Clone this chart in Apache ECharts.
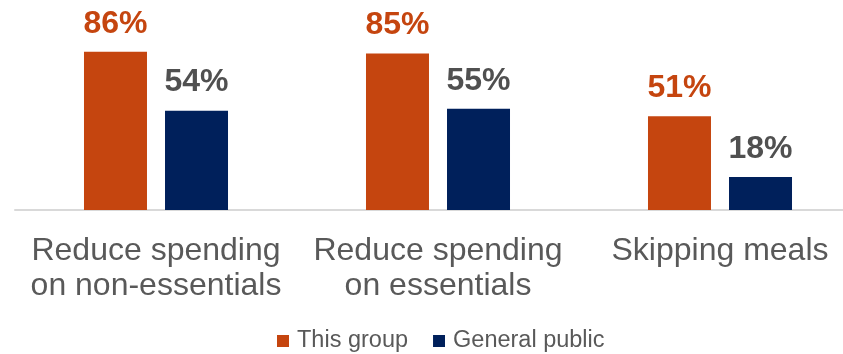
<!DOCTYPE html>
<html>
<head>
<meta charset="utf-8">
<script src="https://cdn.jsdelivr.net/npm/echarts@6/dist/echarts.min.js"></script>
<style>html,body{margin:0;padding:0;background:#fff}#c{width:843px;height:354px}</style>
</head>
<body>
<div id="c"></div>
<script>
var categories = ["Reduce spending\non non-essentials", "Reduce spending\non essentials", "Skipping meals"];
var seriesNames = ["This group", "General public"];
var thisGroup = [86, 85, 51];
var generalPublic = [54, 55, 18];

var chart = echarts.init(document.getElementById('c'), null, {renderer: 'canvas'});
var font = '"Liberation Sans", Arial, sans-serif';
chart.setOption({
  animation: false,
  backgroundColor: '#ffffff',
  grid: {left: 15, width: 846, top: 26, height: 184, containLabel: false, outerBoundsMode: 'none'},
  legend: {
    data: seriesNames,
    left: 277, top: 329, padding: 0,
    itemWidth: 12, itemHeight: 12, itemGap: 25,
    icon: 'rect',
    textStyle: {fontFamily: font, fontSize: 23.5, color: '#595959', padding: [0, 0, 0, 3]}
  },
  xAxis: {
    type: 'category',
    data: categories,
    axisLine: {show: true, lineStyle: {color: '#d9d9d9', width: 2}},
    axisTick: {show: false},
    axisLabel: {interval: 0, margin: 24, fontFamily: font, fontSize: 32, lineHeight: 35, color: '#595959'}
  },
  yAxis: {type: 'value', min: 0, max: 100, show: false, splitLine: {show: false}},
  series: [
    {
      name: seriesNames[0], type: 'bar', data: thisGroup,
      barWidth: 63, barGap: '28.6%',
      itemStyle: {color: '#C5450F'},
      label: {show: true, position: 'top', distance: 12, formatter: '{c}%', fontFamily: font, fontSize: 32, fontWeight: 'bold', color: '#C5450F'}
    },
    {
      name: seriesNames[1], type: 'bar', data: generalPublic,
      barWidth: 63,
      itemStyle: {color: '#00205B'},
      label: {show: true, position: 'top', distance: 12, formatter: '{c}%', fontFamily: font, fontSize: 32, fontWeight: 'bold', color: '#505050'}
    }
  ]
});
</script>
</body>
</html>
